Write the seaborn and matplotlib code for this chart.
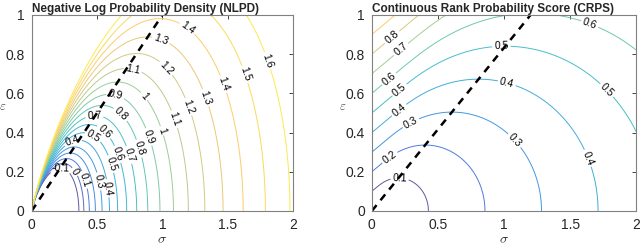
import math
import numpy as np
import seaborn as sns
import matplotlib.pyplot as plt
from matplotlib.colors import LinearSegmentedColormap, Normalize

# contour levels
nlpd_levels = [-0.1, 0.0, 0.1, 0.2, 0.3, 0.4, 0.5, 0.6, 0.7, 0.8,
               0.9, 1.0, 1.1, 1.2, 1.3, 1.4, 1.5, 1.6]
crps_levels = [0.1, 0.2, 0.3, 0.4, 0.5, 0.6, 0.7, 0.8, 0.9]

# axis ranges
sigma_range = [0.0, 2.0]
eps_range = [0.0, 1.0]

# dashed "optimal sigma" lines (sigma, eps)
nlpd_opt_sigma = [0.0, 1.0]
nlpd_opt_eps = [0.0, 1.0]
crps_opt_sigma = [0.0, 1.2011]
crps_opt_eps = [0.0, 1.0]

# where the inline labels sit (approximate)
nlpd_label_pos = {
    -0.1: [(0.22, 0.21)], 0.0: [(0.33, 0.20)], 0.1: [(0.41, 0.16)],
    0.3: [(0.51, 0.15)], 0.4: [(0.32, 0.345), (0.575, 0.115)],
    0.5: [(0.47, 0.38), (0.61, 0.24)], 0.6: [(0.55, 0.40), (0.66, 0.29)],
    0.7: [(0.48, 0.49), (0.74, 0.285)], 0.8: [(0.69, 0.50), (0.83, 0.32)],
    0.9: [(0.64, 0.59), (0.905, 0.38)], 1.0: [(0.87, 0.59), (1.0, 0.41)],
    1.1: [(0.775, 0.72), (1.10, 0.47)], 1.2: [(1.03, 0.73), (1.21, 0.535)],
    1.3: [(0.99, 0.875), (1.34, 0.58)], 1.4: [(1.20, 0.94), (1.48, 0.65)],
    1.5: [(1.645, 0.70)], 1.6: [(1.82, 0.77)],
}
crps_label_pos = {
    0.1: [(0.21, 0.157)], 0.2: [(0.14, 0.268)],
    0.3: [(0.29, 0.455), (1.07, 0.353)], 0.4: [(0.20, 0.52), (1.02, 0.65), (1.63, 0.268)],
    0.5: [(0.20, 0.625), (0.98, 0.84), (1.78, 0.617)], 0.6: [(0.126, 0.677), (1.65, 0.957)],
    0.7: [(0.214, 0.83)], 0.8: [(0.15, 0.89)],
}

# MATLAB parula, sampled at table rows (1..64)
parula_rows = [1, 7, 13, 20, 26, 32, 38, 44, 50, 54, 58, 64]
parula_rgb = [
    (0.2081, 0.1663, 0.5292), (0.1253, 0.3242, 0.8303), (0.0498, 0.4586, 0.8641),
    (0.0488, 0.5772, 0.8228), (0.0267, 0.6642, 0.7607), (0.1801, 0.7177, 0.6424),
    (0.4420, 0.7481, 0.5033), (0.6834, 0.7435, 0.4044), (0.8824, 0.7274, 0.3217),
    (0.9938, 0.7455, 0.2403), (0.9789, 0.8271, 0.1633), (0.9763, 0.9831, 0.0538)]
parula = LinearSegmentedColormap.from_list(
    "parula", [((r - 1) / 63, c) for r, c in zip(parula_rows, parula_rgb)])


def line_color(v, norm):
    # thin antialiased lines in the original read a bit paler
    rgb = np.array(parula(norm(v))[:3])
    return tuple(0.78 * rgb + 0.22)


sig = np.linspace(0.0005, sigma_range[1], 500)
eps = np.linspace(eps_range[0], eps_range[1], 400)
S, E = np.meshgrid(sig, eps)

nlpd = 0.5 * np.log(2 * np.pi * S ** 2) + E ** 2 / (2 * S ** 2)

z = E / S
erf = np.frompyfunc(math.erf, 1, 1)
Phi = 0.5 * (1 + erf(z / np.sqrt(2)).astype(float))
phi = np.exp(-z ** 2 / 2) / np.sqrt(2 * np.pi)
crps = S * (z * (2 * Phi - 1) + 2 * phi - 1 / np.sqrt(np.pi))

sns.set_style("white")
plt.rcParams['font.family'] = ['Liberation Sans', 'DejaVu Sans']
plt.rcParams['mathtext.fontset'] = 'cm'
plt.rcParams['axes.unicode_minus'] = False

fig = plt.figure(figsize=(6.4, 2.45), dpi=100)
ax1 = fig.add_axes([0.0495, 0.139, 0.4085, 0.8])
ax2 = fig.add_axes([0.581, 0.139, 0.413, 0.8])

panels = [
    (ax1, nlpd, nlpd_levels, (-0.1, 1.7), nlpd_label_pos, nlpd_opt_sigma, nlpd_opt_eps,
     "Negative Log Probability Density (NLPD)"),
    (ax2, crps, crps_levels, (0.1, 1.05), crps_label_pos, crps_opt_sigma, crps_opt_eps,
     "Continuous Rank Probability Score (CRPS)"),
]

for ax, Z, levels, lims, label_pos, ls, le, title in panels:
    norm = Normalize(lims[0], lims[1])
    for lv in levels:
        cs = ax.contour(S, E, Z, levels=[lv], colors=[line_color(lv, norm)],
                        linewidths=0.7, negative_linestyles='solid')
        pos = label_pos.get(lv)
        if pos:
            ax.clabel(cs, manual=pos, inline=True, fontsize=7.5,
                      colors='black', fmt='%g', inline_spacing=2)
    ax.plot(ls, le, color='black', linestyle=(0, (3, 2.5)), linewidth=1.8)
    ax.set_xlim(sigma_range)
    ax.set_ylim(eps_range)
    ax.set_xticks([0, 0.5, 1, 1.5, 2])
    ax.set_xticklabels(['0', '0.5', '1', '1.5', '2'])
    ax.set_yticks([0, 0.2, 0.4, 0.6, 0.8, 1])
    ax.set_yticklabels(['0', '0.2', '0.4', '0.6', '0.8', '1'])
    ax.tick_params(direction='in', length=3, width=0.6, top=True, right=True,
                   labelsize=10, colors='#262626', pad=5)
    for sp in ax.spines.values():
        sp.set_color('#808080')
        sp.set_linewidth(0.8)
    ax.set_xlabel(r'$\sigma$', fontsize=10, labelpad=0)
    ax.set_ylabel(r'$\varepsilon$', fontsize=9, rotation=0, color='#404040')
    ax.yaxis.set_label_coords(-0.112, 0.50)
    ax.set_title(title, loc='left', fontsize=8.5, fontweight='bold', pad=2)

fig.savefig("out.png", dpi=100)
